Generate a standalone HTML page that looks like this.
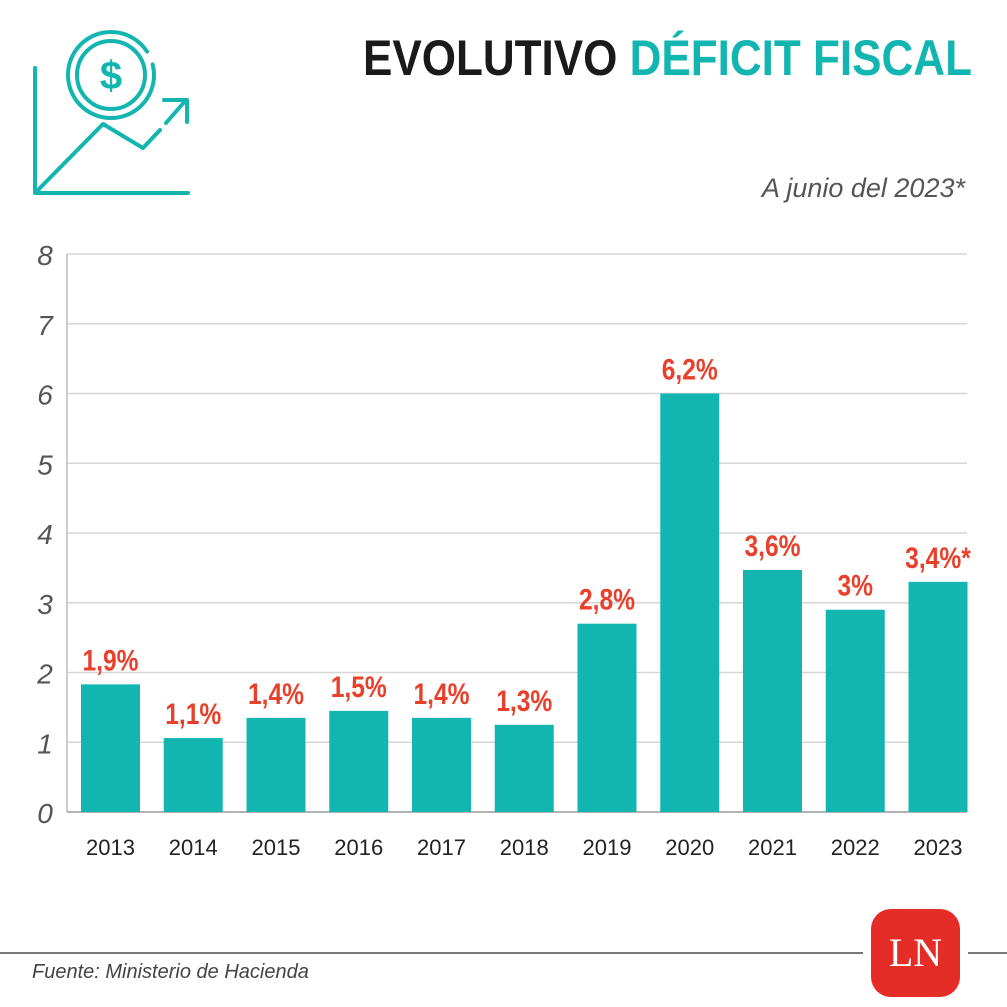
<!DOCTYPE html>
<html><head><meta charset="utf-8"><style>
body{margin:0;background:#fff;}
svg{display:block;font-family:"Liberation Sans",sans-serif;}
</style></head><body>
<svg id="c" width="1007" height="1007" viewBox="0 0 1007 1007">
<g fill="none" stroke="#13b5b1" stroke-width="4" stroke-linecap="round" stroke-linejoin="round">
<path d="M35 68 V193 H188"/>
<path d="M37 191 L103 124 L143 148 L160 130"/>
<path d="M166 123 L186 100 M164 100 H187 V122"/>
<circle cx="111" cy="75" r="43" stroke-dasharray="245 14"/>
<circle cx="111" cy="75" r="34"/>
<text x="111" y="89" font-size="40" font-weight="bold" fill="#13b5b1" stroke="none" text-anchor="middle">$</text>
</g>
<text x="972" y="75" font-size="50" font-weight="bold" text-anchor="end" textLength="609" lengthAdjust="spacingAndGlyphs"><tspan fill="#1a1a1a">EVOLUTIVO </tspan><tspan fill="#13b5b1">DÉFICIT FISCAL</tspan></text>
<text x="965" y="197" font-size="27" font-style="italic" fill="#555" text-anchor="end">A junio del 2023*</text>
<g id="grid"></g><g id="bars"></g>
<text x="32" y="978" font-size="20" font-style="italic" fill="#444">Fuente: Ministerio de Hacienda</text>
<line x1="0" y1="953" x2="863" y2="953" stroke="#777" stroke-width="2"/>
<line x1="968" y1="953" x2="1007" y2="953" stroke="#777" stroke-width="2"/>
<rect x="871" y="909" width="89" height="88" rx="20" fill="#e52d27"/>
<text x="915.5" y="966" font-size="40" fill="#fff" font-family="Liberation Serif,serif" text-anchor="middle">LN</text>
</svg>
<script>
const years=["2013","2014","2015","2016","2017","2018","2019","2020","2021","2022","2023"];
const values=[1.83,1.06,1.35,1.45,1.35,1.25,2.7,6.0,3.47,2.9,3.3];
const valueLabels=["1,9%","1,1%","1,4%","1,5%","1,4%","1,3%","2,8%","6,2%","3,6%","3%","3,4%*"];
const yTicks=[0,1,2,3,4,5,6,7,8];
const NS="http://www.w3.org/2000/svg";
const y=v=>812-v*69.75;
const x=i=>110.5+i*82.75;
function mk(t,a,p){const e=document.createElementNS(NS,t);for(const k in a)e.setAttribute(k,a[k]);p.appendChild(e);return e;}
const grid=document.getElementById('grid'),bars=document.getElementById('bars');
yTicks.forEach(t=>{
 const l=mk('line',{x1:67,x2:967,y1:y(t),y2:y(t),stroke:t?'#d6d6d6':'#999','stroke-width':1.5},grid);
 
 
 const tx=mk('text',{x:45,y:y(t)+11,'font-size':28,'font-style':'italic',fill:'#555','text-anchor':'middle'},grid);
 tx.textContent=t;
 
 
});
const ax=mk('line',{x1:67,x2:67,y1:y(8),y2:y(0),stroke:'#bbb','stroke-width':1.5},grid);


years.forEach((yr,i)=>{
 const r=mk('rect',{x:x(i)-29.5,y:y(values[i]),width:59,height:y(0)-y(values[i]),fill:'#13b5b1'},bars);
 
 
 const lb=mk('text',{x:x(i),y:y(values[i])-14,'font-size':30,'font-weight':'bold',fill:'#e8402a','text-anchor':'middle',transform:`translate(${x(i)},0) scale(0.82,1) translate(${-x(i)},0)`},bars);
 lb.textContent=valueLabels[i];
 
 
 const xl=mk('text',{x:x(i),y:855,'font-size':22,fill:'#222','text-anchor':'middle'},bars);
 xl.textContent=yr;
 
 
});
</script>
</body></html>
